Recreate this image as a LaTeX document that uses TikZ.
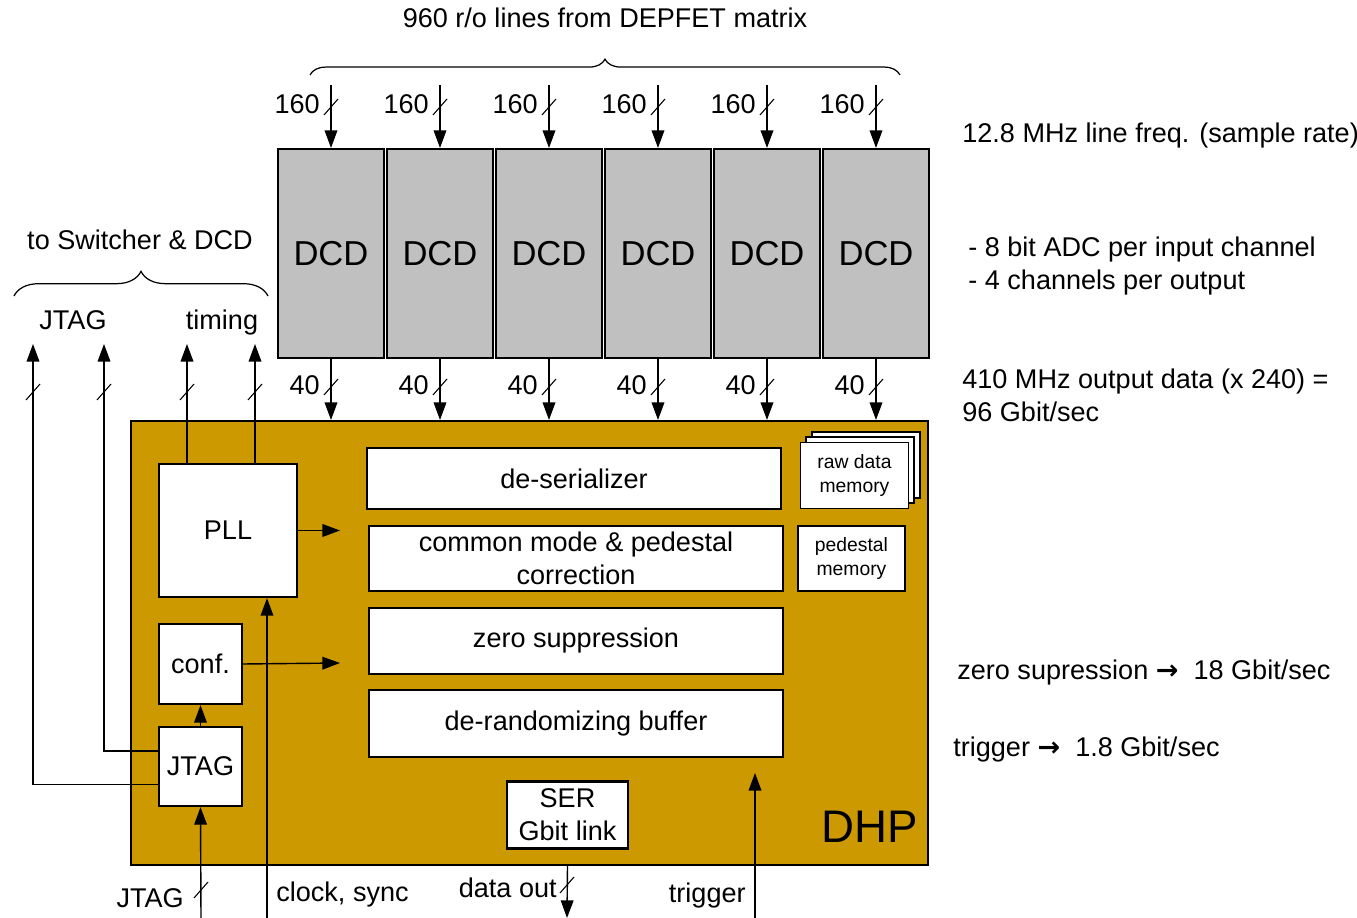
\documentclass[tikz,border=0pt]{standalone}
\usepackage{fontspec}
\setmainfont{Liberation Sans}
\newfontfamily\symfont{DejaVu Sans}
\usetikzlibrary{arrows.meta, positioning, calc, decorations.pathreplacing}
\definecolor{dhpgold}{RGB}{204, 153, 0}
\definecolor{dcdgray}{RGB}{192, 192, 192}

% short slash across a bus line
\newcommand{\busmark}[1]{\draw[tick] ($(#1)+(-7,8)$) -- ($(#1)+(7,-8)$);}
\newcommand{\rarr}{{\symfont\bfseries →}}

\begin{document}
\begin{tikzpicture}[
  x=0.02cm, y=-0.02cm,
  every node/.style={font=\fontsize{15.4}{18.8}\selectfont, inner sep=0pt},
  dcd/.style={
    draw, fill=dcdgray, line width=1.2pt,
    minimum width=2.12cm, minimum height=4.18cm,
    font=\fontsize{19.7}{22}\selectfont
  },
  blk/.style={draw, fill=white, line width=1.3pt, align=center},
  memo/.style={
    blk, line width=1.1pt, minimum width=2.16cm, minimum height=1.32cm,
    font=\fontsize{11}{14.2}\selectfont
  },
  arrow/.style={-{Triangle[length=10pt, width=7.2pt]}, line width=0.8pt},
  tick/.style={line width=0.6pt},
  brace/.style={decorate, decoration={brace, amplitude=#1}, line width=0.7pt},
  txt/.style={anchor=base west, align=left}
]
  \useasboundingbox (0,0) rectangle (1357,918);

  % DHP chip
  \node[draw, fill=dhpgold, line width=1.2pt, minimum width=15.94cm, minimum height=8.88cm] (dhp) at (529.5,643) {};
  \node[anchor=base east, font=\fontsize{26}{30}\selectfont] (dhplbl) at (918,843) {DHP};

  % DCD row with input and output buses
  \foreach \i in {1,...,6} {
    \pgfmathsetmacro\cx{331+109*(\i-1)}
    \node[dcd] (dcd\i) at (\cx,253.5) {DCD};
    \coordinate (in\i) at (\cx,85);
    \draw[arrow] (in\i) -- (dcd\i.north);
    \busmark{\cx,107}
    \node[anchor=base east] (nin\i) at (\cx-11,114) {160};
    \draw[arrow] (dcd\i.south) -- (dcd\i.south |- dhp.north);
    \busmark{\cx,387}
    \node[anchor=base east] (nout\i) at (\cx-11,395) {40};
  }

  \draw[brace=9pt] (310,75) -- (900,75);
  \node[anchor=base] (ltop) at (605,28) {960 r/o lines from DEPFET matrix};

  % blocks inside DHP
  \node[blk, minimum width=2.76cm, minimum height=2.66cm] (pll) at (228,530.5) {PLL};
  \node[blk, minimum width=1.66cm, minimum height=1.6cm] (conf) at (200.5,664) {conf.};
  \node[blk, minimum width=1.66cm, minimum height=1.58cm] (jtag) at (200.5,766.5) {JTAG};

  \node[blk, minimum width=8.28cm, minimum height=1.22cm] (deser) at (574,478.5) {de-serializer};
  \node[blk, minimum width=8.28cm, minimum height=1.3cm] (cmc) at (576,558.5) {common mode \& pedestal\\correction};
  \node[blk, minimum width=8.28cm, minimum height=1.32cm] (zs) at (576,641) {zero suppression};
  \node[blk, minimum width=8.28cm, minimum height=1.34cm] (drb) at (576,723.5) {de-randomizing buffer};

  \node[memo] (raw3) at (866,465) {};
  \node[memo] (raw2) at (860,470) {};
  \node[memo] (raw) at (854.5,475.5) {raw data\\memory};
  \node[memo, minimum width=2.14cm, minimum height=1.3cm] (ped) at (851.5,558.5) {pedestal\\memory};

  \node[blk, minimum width=2.42cm, minimum height=1.34cm] (ser) at (567.5,815) {SER\\Gbit link};

  % internal arrows
  \coordinate (pllto) at (340,530.5);
  \coordinate (confto) at (340,663);
  \draw[arrow] (pll.east) -- (pllto);
  \draw[arrow] (conf.east) -- (confto);
  \draw[arrow] (jtag.north) -- (conf.south);

  % outputs to Switcher & DCD
  \coordinate (jo1) at (33,344);
  \coordinate (jo2) at (104,344);
  \coordinate (to1) at (187,344);
  \coordinate (to2) at (255,344);
  \draw[arrow] ($(jtag.west)+(0,18)$) -| (jo1);
  \draw[arrow] ($(jtag.west)+(0,-15.5)$) -| (jo2);
  \draw[arrow] (to1 |- pll.north) -- (to1);
  \draw[arrow] (to2 |- pll.north) -- (to2);
  \busmark{33,392}
  \busmark{104,392}
  \busmark{187,392}
  \busmark{255,392}
  \node[anchor=base] (ljtag) at (73,330) {JTAG};
  \node[anchor=base] (ltiming) at (222,330) {timing};
  \draw[brace=14pt] (14,296) -- (268,296);
  \node[anchor=base] (lsw) at (140,250) {to Switcher \& DCD};

  % bottom connections
  \coordinate (jtagin) at (201,918);
  \coordinate (clkin) at (267,918);
  \coordinate (dout) at (567,918);
  \coordinate (trigin) at (755,918);
  \coordinate (trigto) at (755,773);
  \draw[arrow] (jtagin) -- (jtag.south);
  \draw[arrow] (clkin) -- (clkin |- pll.south);
  \draw[arrow] (ser.south |- dhp.south) -- (dout);
  \draw[arrow] (trigin) -- (trigto);
  \busmark{201,890}
  \busmark{567,885}
  \node[anchor=base east] (bjtag) at (184,908) {JTAG};
  \node[anchor=base west] (bclk) at (276,902) {clock, sync};
  \node[anchor=base east] (bdout) at (557,898) {data out};
  \node[anchor=base east] (btrig) at (746,903) {trigger};

  % rates on the right
  \node[txt] (rfreq) at (962,143) {12.8 MHz line freq. (sample rate)};
  \node[txt] (radc) at (968,290) {- 8 bit ADC per input channel\\- 4 channels per output};
  \node[txt] (rout) at (962,422) {410 MHz output data (x 240) =\\96 Gbit/sec};
  \node[txt] (rzs) at (957,680) {zero supression \rarr\ \ 18 Gbit/sec};
  \node[txt] (rtrig) at (953,757) {trigger \rarr\ \ 1.8 Gbit/sec};
\end{tikzpicture}
\end{document}
